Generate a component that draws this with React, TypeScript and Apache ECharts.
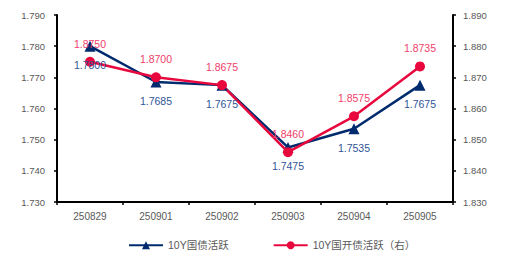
import React, { useEffect, useRef } from "react";
import * as echarts from "echarts";

const categories = ["250829", "250901", "250902", "250903", "250904", "250905"];
const govBond = [1.78, 1.7685, 1.7675, 1.7475, 1.7535, 1.7675];
const cdbBond = [1.875, 1.87, 1.8675, 1.846, 1.8575, 1.8735];
const leftTicks = { min: 1.73, max: 1.79, interval: 0.01 };
const rightTicks = { min: 1.83, max: 1.89, interval: 0.01 };
const seriesNames = ["10Y国债活跃", "10Y国开债活跃（右）"];

const FONT = "'Liberation Sans', 'Noto Sans CJK SC', sans-serif";

export default function App() {
  const ref = useRef<HTMLDivElement>(null);
  useEffect(() => {
    const chart = echarts.init(ref.current!, null, { renderer: "svg" });
    const axisCommon = {
      axisLine: { show: true, lineStyle: { color: "#000", width: 2 } },
      axisTick: { show: true, length: 3, lineStyle: { color: "#000", width: 1.5 } },
      splitLine: { show: false },
    };
    chart.setOption({
      animation: false,
      backgroundColor: "#fff",
      grid: { left: 57, right: 57, top: 15, bottom: 53 },
      legend: {
        left: 123,
        top: 235,
        itemWidth: 34,
        itemHeight: 10,
        itemGap: 44,
        textStyle: { fontSize: 10.5, color: "#595959", fontFamily: FONT },
        data: seriesNames,
      },
      xAxis: {
        type: "category",
        data: categories,
        boundaryGap: true,
        ...axisCommon,
        axisTick: { show: true, length: 3, alignWithLabel: false, lineStyle: { color: "#000", width: 1.5 } },
        axisLabel: { color: "#595959", fontSize: 10, margin: 9, fontFamily: FONT },
      },
      yAxis: [
        {
          type: "value",
          position: "left",
          ...leftTicks,
          ...axisCommon,
          axisLabel: {
            color: "#595959",
            fontSize: 9.5,
            margin: 12,
            fontFamily: FONT,
            formatter: (v: number) => v.toFixed(3),
          },
        },
        {
          type: "value",
          position: "right",
          ...rightTicks,
          ...axisCommon,
          axisLabel: {
            color: "#595959",
            fontSize: 9.5,
            margin: 10,
            fontFamily: FONT,
            formatter: (v: number) => v.toFixed(3),
          },
        },
      ],
      series: [
        {
          name: seriesNames[0],
          type: "line",
          yAxisIndex: 0,
          data: govBond,
          symbol: "triangle",
          symbolSize: 11,
          lineStyle: { color: "#002A6E", width: 2.5 },
          itemStyle: { color: "#002A6E" },
          label: {
            show: true,
            position: "bottom",
            distance: 8,
            color: "#2F5597",
            fontSize: 10.5,
            fontFamily: FONT,
            formatter: (p: any) => Number(p.value).toFixed(4),
          },
        },
        {
          name: seriesNames[1],
          type: "line",
          yAxisIndex: 1,
          data: cdbBond,
          symbol: "circle",
          symbolSize: 10,
          lineStyle: { color: "#E8083E", width: 2.5 },
          itemStyle: { color: "#E8083E" },
          label: {
            show: true,
            position: "top",
            distance: 8,
            color: "#F0406A",
            fontSize: 10.5,
            fontFamily: FONT,
            formatter: (p: any) => Number(p.value).toFixed(4),
          },
        },
      ],
    });
    return () => chart.dispose();
  }, []);
  return (
    <div
      ref={ref}
      style={{ position: "fixed", left: 0, top: 0, width: 510, height: 255, background: "#fff" }}
    />
  );
}
